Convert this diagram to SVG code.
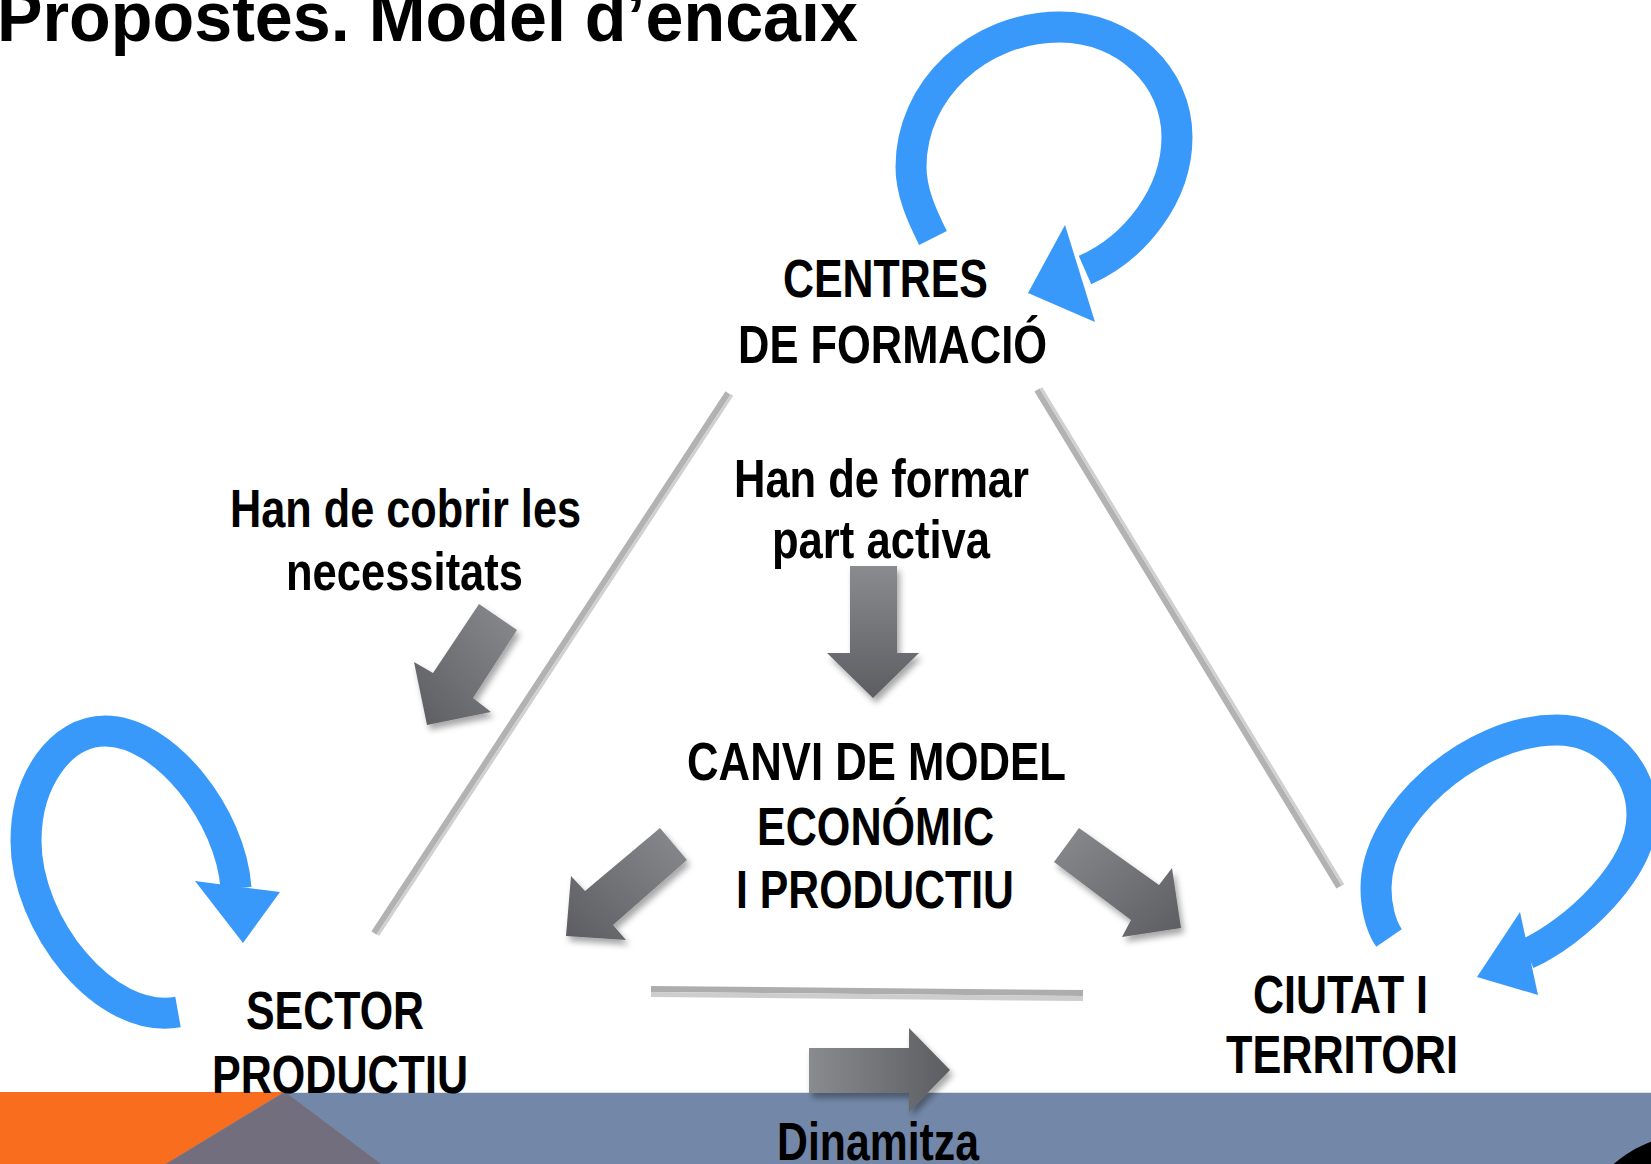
<svg xmlns="http://www.w3.org/2000/svg" width="1651" height="1164" viewBox="0 0 1651 1164">
<style>
.t{font-family:"Liberation Sans",Arial,sans-serif;font-weight:bold;fill:#000;}
.n{font-size:53px;}
.loop{fill:none;stroke:#3899FB;stroke-width:31;}
.head{fill:#3899FB;}
.ln{stroke:#B2B2B2;stroke-width:6;fill:none;}
.lnl{stroke:#D0D0D0;stroke-width:3;fill:none;}
.blk{filter:url(#sh);}
</style>
<defs>
<filter id="sh" x="-20%" y="-20%" width="150%" height="150%">
<feDropShadow dx="3" dy="5" stdDeviation="3" flood-color="#000" flood-opacity="0.35"/>
</filter>
<linearGradient id="gDown" x1="0" y1="0" x2="0" y2="1"><stop offset="0" stop-color="#898B8F"/><stop offset="1" stop-color="#5C5D61"/></linearGradient>
<linearGradient id="gDL" x1="1" y1="0" x2="0" y2="1"><stop offset="0" stop-color="#898B8F"/><stop offset="1" stop-color="#5C5D61"/></linearGradient>
<linearGradient id="gDR" x1="0" y1="0" x2="1" y2="1"><stop offset="0" stop-color="#898B8F"/><stop offset="1" stop-color="#5C5D61"/></linearGradient>
<linearGradient id="gR" x1="0" y1="0" x2="1" y2="0"><stop offset="0" stop-color="#898B8F"/><stop offset="1" stop-color="#5C5D61"/></linearGradient>
</defs>
<rect width="1651" height="1164" fill="#fff"/>

<!-- bottom band -->
<g id="band">
<rect x="0" y="1092" width="1651" height="72" fill="#7388A8"/>
<line x1="0" y1="1092.5" x2="1651" y2="1092.5" stroke="#DCE1E8" stroke-width="1"/>
<polygon points="0,1092 284,1092 166,1164 0,1164" fill="#F96D1F"/>
<polygon points="285,1092 166,1164 381,1164" fill="#736E7E"/>
<circle cx="1690" cy="1250" r="115" fill="#000"/>
</g>

<text id="title" class="t" x="-3" y="41" font-size="70" textLength="861" lengthAdjust="spacingAndGlyphs">Propostes. Model d’encaix</text>

<!-- connectors -->
<g id="connectors">
<line class="ln" x1="728" y1="393" x2="374" y2="933"/>
<line class="lnl" x1="732" y1="395" x2="378" y2="935"/>
<line class="ln" x1="1037" y1="390" x2="1339" y2="887"/>
<line class="lnl" x1="1041" y1="388" x2="1343" y2="885"/>
<line x1="651" y1="989" x2="1083" y2="993" stroke="#ADADAD" stroke-width="6"/>
<line x1="651" y1="994.5" x2="1083" y2="998.5" stroke="#CDCDCD" stroke-width="5"/>

<polygon class="blk" fill="url(#gDown)" points="850,566 897,566 897,653 919,653 873,698 827,653 850,653"/>
<polygon class="blk" fill="url(#gDL)" points="479,604 517,630 473,698 491,712 427,725 414,662 433,673"/>
<polygon class="blk" fill="url(#gDL)" points="660,828 687,860 613,925 626,940 566,936 571,876 585,891"/>
<polygon class="blk" fill="url(#gDR)" points="1079,828 1159,885 1172,868 1181,928 1122,937 1131,920 1054,862"/>
<polygon class="blk" fill="url(#gR)" points="809,1048 909,1048 909,1028 950,1070 909,1112 909,1093 809,1093"/>

<g id="label-cobrir">
<text class="t n" x="230" y="527" textLength="351" lengthAdjust="spacingAndGlyphs">Han de cobrir les</text>
<text class="t n" x="286" y="590" textLength="237" lengthAdjust="spacingAndGlyphs">necessitats</text>
</g>
<g id="label-formar">
<text class="t n" x="734" y="497" textLength="295" lengthAdjust="spacingAndGlyphs">Han de formar</text>
<text class="t n" x="772" y="558" textLength="218" lengthAdjust="spacingAndGlyphs">part activa</text>
</g>
<text id="label-dinamitza" class="t n" x="777" y="1160" textLength="202" lengthAdjust="spacingAndGlyphs">Dinamitza</text>
</g>

<!-- nodes -->
<g id="node-centres">
<path class="loop" d="M933,238 C922,216 911,192 911,167 C911,90 978,27 1060,27 C1125,27 1177,76 1177,137 C1177,195 1135,248 1085,270"/>
<polygon class="head" points="1065,225 1028,293 1095,322"/>
<text class="t n" x="783" y="297" textLength="205" lengthAdjust="spacingAndGlyphs">CENTRES</text>
<text class="t n" x="738" y="363" textLength="309" lengthAdjust="spacingAndGlyphs">DE FORMACIÓ</text>
</g>

<g id="node-sector">
<path class="loop" d="M178,1012 C105,1025 26,925 26,841 C26,780 61,731 105,731 C165,731 231,816 236,888"/>
<polygon class="head" points="195,881 280,892 243,943"/>
<text class="t n" x="246" y="1029" textLength="178" lengthAdjust="spacingAndGlyphs">SECTOR</text>
<text class="t n" x="212" y="1093" textLength="256" lengthAdjust="spacingAndGlyphs">PRODUCTIU</text>
</g>

<g id="node-ciutat">
<path class="loop" d="M1389,938 C1380,925 1376,905 1376,888 C1376,815 1470,730 1557,730 C1605,730 1642,770 1642,815 C1642,870 1575,932 1527,954"/>
<polygon class="head" points="1520,912 1477,977 1538,995"/>
<text class="t n" x="1253" y="1013" textLength="175" lengthAdjust="spacingAndGlyphs">CIUTAT I</text>
<text class="t n" x="1226" y="1073" textLength="232" lengthAdjust="spacingAndGlyphs">TERRITORI</text>
</g>

<g id="node-canvi">
<text class="t n" x="687" y="780" textLength="379" lengthAdjust="spacingAndGlyphs">CANVI DE MODEL</text>
<text class="t n" x="757" y="845" textLength="237" lengthAdjust="spacingAndGlyphs">ECONÓMIC</text>
<text class="t n" x="736" y="908" textLength="278" lengthAdjust="spacingAndGlyphs">I PRODUCTIU</text>
</g>
</svg>
